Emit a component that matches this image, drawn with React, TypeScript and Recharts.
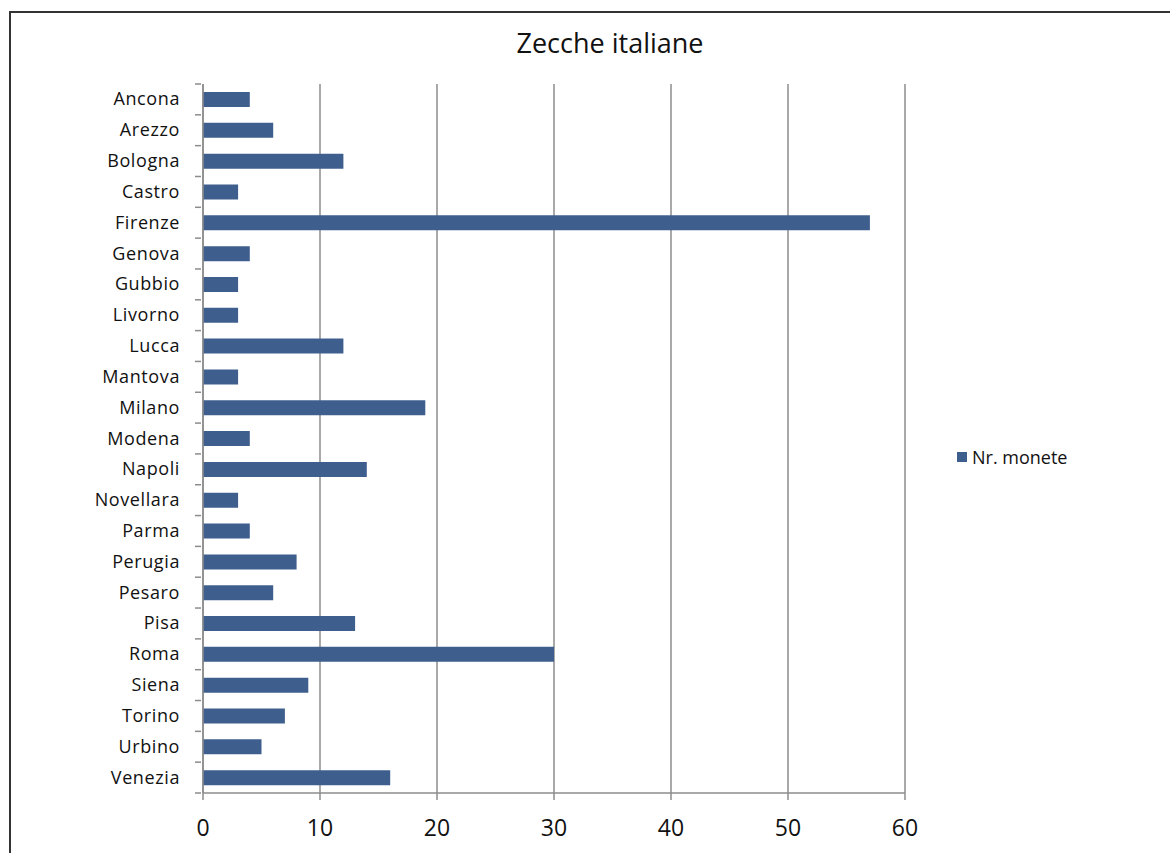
import React from 'react';
import { BarChart, Bar, XAxis, YAxis, CartesianGrid } from 'recharts';

const zecche = [
  'Ancona', 'Arezzo', 'Bologna', 'Castro', 'Firenze', 'Genova', 'Gubbio', 'Livorno',
  'Lucca', 'Mantova', 'Milano', 'Modena', 'Napoli', 'Novellara', 'Parma', 'Perugia',
  'Pesaro', 'Pisa', 'Roma', 'Siena', 'Torino', 'Urbino', 'Venezia',
];
const monete = [4, 6, 12, 3, 57, 4, 3, 3, 12, 3, 19, 4, 14, 3, 4, 8, 6, 13, 30, 9, 7, 5, 16];
const xTicks = [0, 10, 20, 30, 40, 50, 60];

const data = zecche.map((name, i) => ({ name, monete: monete[i] }));

const FONT = '"Open Sans", "Noto Sans", sans-serif';
const BAR = '#3e5f8e';
const GRID = '#8c8c8c';

const CHART_W = 1170;
const CHART_H = 853;
const TOP = 84;
const BOTTOM = 60;
const BAND = (CHART_H - TOP - BOTTOM) / zecche.length;

const CityTick = (props: any) => {
  const { x, y, payload, index } = props;
  const last = index === zecche.length - 1;
  return (
    <g>
      <line x1={x} x2={x + 6} y1={y - BAND / 2} y2={y - BAND / 2} stroke={GRID} strokeWidth={1.5} />
      {last && <line x1={x} x2={x + 6} y1={y + BAND / 2} y2={y + BAND / 2} stroke={GRID} strokeWidth={1.5} />}
      <text x={x - 15} y={y} dy={6} textAnchor="end" fontSize={18} letterSpacing={0.6} fill="#111" fontFamily={FONT}>
        {payload.value}
      </text>
    </g>
  );
};

export default function App() {
  return (
    <div style={{ position: 'absolute', left: 0, top: 0, width: CHART_W, height: CHART_H, background: '#fff', overflow: 'hidden' }}>
      <div style={{ position: 'absolute', left: 9, top: 11, width: 1200, height: 900, borderLeft: '2px solid #333', borderTop: '2px solid #333' }} />
      <div style={{ position: 'absolute', left: 0, top: 24, width: 1220, textAlign: 'center', fontFamily: FONT, fontSize: 27, color: '#111' }}>
        Zecche italiane
      </div>
      <div style={{ position: 'absolute', left: 957, top: 445, display: 'flex', alignItems: 'center', fontFamily: FONT, fontSize: 18, color: '#111' }}>
        <span style={{ width: 10, height: 10, background: BAR, marginRight: 5, display: 'inline-block' }} />
        Nr. monete
      </div>
      <div style={{ position: 'absolute', left: 0, top: 0 }}>
        <BarChart
          width={CHART_W}
          height={CHART_H}
          data={data}
          layout="vertical"
          barSize={15}
          margin={{ top: TOP, right: 265, left: 0, bottom: 0 }}
        >
          <CartesianGrid horizontal={false} stroke={GRID} strokeWidth={1.5} />
          <XAxis
            type="number"
            domain={[0, 60]}
            ticks={xTicks}
            height={BOTTOM}
            stroke={GRID}
            strokeWidth={1.5}
            tickSize={7}
            tick={{ fontSize: 23, fill: '#111', fontFamily: FONT, dy: 18 }}
          />
          <YAxis
            type="category"
            dataKey="name"
            width={203}
            stroke={GRID}
            strokeWidth={1.5}
            tickLine={false}
            tick={<CityTick />}
            interval={0}
          />
          <Bar dataKey="monete" name="Nr. monete" fill={BAR} isAnimationActive={false} />
        </BarChart>
      </div>
    </div>
  );
}
